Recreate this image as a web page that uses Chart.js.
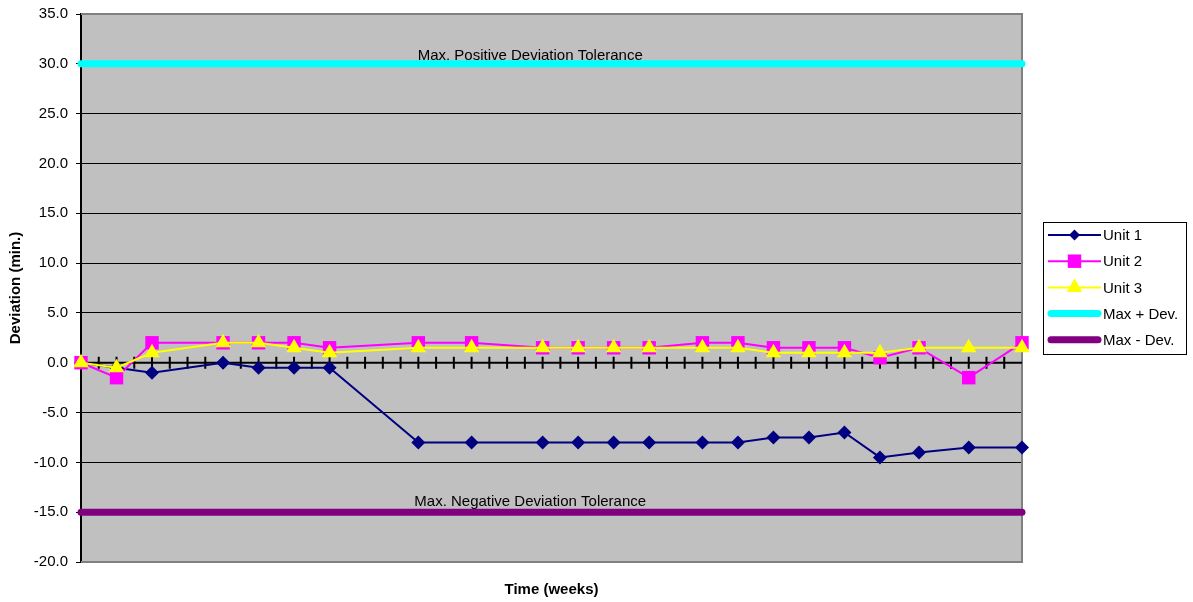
<!DOCTYPE html>
<html>
<head>
<meta charset="utf-8">
<script src="https://cdn.jsdelivr.net/npm/chart.js@4.4.1/dist/chart.umd.min.js"></script>
<style>
    html, body { margin: 0; padding: 0; background: #fff; }
    #wrap { width: 1193px; height: 602px; }
</style>
</head>
<body>
<div id="wrap"><canvas id="chart"></canvas></div>
<script>
// Values
const weeks = [0, 2, 4, 8, 10, 12, 14, 19, 22, 26, 28, 30, 32, 35, 37, 39, 41, 43, 45, 47.2, 50, 53];
const unit1 = [0, -0.5, -1, 0, -0.5, -0.5, -0.5, -8, -8, -8, -8, -8, -8, -8, -8, -7.5, -7.5, -7, -9.5, -9, -8.5, -8.5];
const unit2 = [0, -1.5, 2, 2, 2, 2, 1.5, 2, 2, 1.5, 1.5, 1.5, 1.5, 2, 2, 1.5, 1.5, 1.5, 0.5, 1.5, -1.5, 2];
const unit3 = [0, -0.5, 1, 2, 2, 1.5, 1, 1.5, 1.5, 1.5, 1.5, 1.5, 1.5, 1.5, 1.5, 1, 1, 1, 1, 1.5, 1.5, 1.5];
const maxPosDev = 30;
const maxNegDev = -15;
const seriesNames = ['Unit 1', 'Unit 2', 'Unit 3', 'Max + Dev.', 'Max - Dev.'];
const toleranceLabels = ['Max. Positive Deviation Tolerance', 'Max. Negative Deviation Tolerance'];
const yRange = { min: -20, max: 35, step: 5 };

const FONT = "'Liberation Sans', Arial, sans-serif";
Chart.defaults.font.family = FONT;
Chart.defaults.font.size = 15;
Chart.defaults.color = '#000';

const pts = (ys) => ys.map((y, i) => ({ x: weeks[i], y: y }));
const flat = (y) => [{ x: weeks[0], y: y }, { x: weeks[weeks.length - 1], y: y }];

function unitSeries(label, data, color, style, radius, order) {
    return {
        label: label,
        data: pts(data),
        borderColor: color,
        backgroundColor: color,
        borderWidth: 2,
        pointStyle: style,
        pointRadius: radius,
        pointHoverRadius: radius,
        pointBorderWidth: 0,
        tension: 0,
        order: order
    };
}

function limitSeries(label, y, color, order) {
    return {
        label: label,
        data: flat(y),
        borderColor: color,
        backgroundColor: color,
        borderWidth: 7,
        borderCapStyle: 'round',
        pointRadius: 0,
        order: order
    };
}

// small marker helper, used for the legend swatches
function marker(ctx, style, x, y, r, color) {
    ctx.save();
    ctx.fillStyle = color;
    ctx.beginPath();
    if (style === 'rectRot') {
        ctx.moveTo(x, y - r); ctx.lineTo(x + r, y); ctx.lineTo(x, y + r); ctx.lineTo(x - r, y);
    } else if (style === 'rect') {
        const s = r * Math.SQRT1_2;
        ctx.rect(x - s, y - s, 2 * s, 2 * s);
    } else if (style === 'triangle') {
        ctx.moveTo(x, y - r);
        ctx.lineTo(x + r * Math.sqrt(3) / 2, y + r / 2);
        ctx.lineTo(x - r * Math.sqrt(3) / 2, y + r / 2);
    }
    ctx.closePath();
    ctx.fill();
    ctx.restore();
}

const plotBackground = {
    id: 'plotBackground',
    beforeDraw(chart) {
        const { ctx, chartArea: a } = chart;
        ctx.save();
        ctx.fillStyle = '#C0C0C0';
        ctx.fillRect(a.left, a.top, a.width, a.height);
        ctx.restore();
    }
};

// grey frame plus the zero line with its week tick marks
const plotFrame = {
    id: 'plotFrame',
    beforeDatasetsDraw(chart) {
        const { ctx, chartArea: a, scales } = chart;
        ctx.save();
        ctx.strokeStyle = '#808080';
        ctx.lineWidth = 2;
        ctx.beginPath();
        ctx.moveTo(a.left, a.top); ctx.lineTo(a.right, a.top);
        ctx.lineTo(a.right, a.bottom); ctx.lineTo(a.left, a.bottom);
        ctx.stroke();

        const y0 = scales.y.getPixelForValue(0);
        ctx.strokeStyle = '#000';
        ctx.lineWidth = 2;
        ctx.beginPath();
        ctx.moveTo(a.left, y0); ctx.lineTo(a.right, y0);
        scales.x.ticks.forEach(t => {
            const x = scales.x.getPixelForValue(t.value);
            if (x <= a.left + 1 || x >= a.right - 1) return;
            ctx.moveTo(x, y0 - 6); ctx.lineTo(x, y0 + 6);
        });
        ctx.stroke();
        ctx.restore();
    }
};

const toleranceText = {
    id: 'toleranceText',
    afterDatasetsDraw(chart, args, opts) {
        const { ctx, scales } = chart;
        const x = scales.x.getPixelForValue(opts.anchor);
        ctx.save();
        ctx.font = '15px ' + FONT;
        ctx.fillStyle = '#000';
        ctx.textAlign = 'center';
        ctx.textBaseline = 'alphabetic';
        ctx.fillText(toleranceLabels[0], x, scales.y.getPixelForValue(maxPosDev) - 4);
        ctx.fillText(toleranceLabels[1], x, scales.y.getPixelForValue(maxNegDev) - 6);
        ctx.restore();
    }
};

const boxLegend = {
    id: 'boxLegend',
    afterDraw(chart) {
        const { ctx, chartArea: a } = chart;
        const left = a.right + 21, right = chart.width - 7;
        const rowH = 26.2, h = 132;
        const top = Math.round((a.top + a.bottom) / 2 - h / 2);
        ctx.save();
        ctx.fillStyle = '#fff';
        ctx.fillRect(left, top, right - left, h);
        ctx.strokeStyle = '#000';
        ctx.lineWidth = 1;
        ctx.strokeRect(left + 0.5, top + 0.5, right - left, h);
        chart.data.datasets.forEach((ds, i) => {
            const y = top + 13 + i * rowH;
            const x1 = left + 5, x2 = left + 58;
            ctx.strokeStyle = ds.borderColor;
            ctx.lineWidth = ds.borderWidth;
            ctx.lineCap = ds.borderWidth > 3 ? 'round' : 'butt';
            ctx.beginPath();
            ctx.moveTo(x1 + (ds.borderWidth > 3 ? 3 : 0), y);
            ctx.lineTo(x2 - (ds.borderWidth > 3 ? 3 : 0), y);
            ctx.stroke();
            if (ds.pointRadius > 0) {
                marker(ctx, ds.pointStyle, (x1 + x2) / 2, y, ds.pointStyle === 'rectRot' ? 5.5 : ds.pointRadius, ds.backgroundColor);
            }
            ctx.fillStyle = '#000';
            ctx.font = '15px ' + FONT;
            ctx.textAlign = 'left';
            ctx.textBaseline = 'middle';
            ctx.fillText(ds.label, x2 + 2, y + 1);
        });
        ctx.restore();
    }
};

new Chart(document.getElementById('chart'), {
    type: 'line',
    data: {
        datasets: [
            unitSeries(seriesNames[0], unit1, '#000080', 'rectRot', 7, 3),
            unitSeries(seriesNames[1], unit2, '#FF00FF', 'rect', 9.5, 2),
            unitSeries(seriesNames[2], unit3, '#FFFF00', 'triangle', 9, 1),
            limitSeries(seriesNames[3], maxPosDev, '#00FFFF', 5),
            limitSeries(seriesNames[4], maxNegDev, '#800080', 4)
        ]
    },
    options: {
        responsive: true,
        maintainAspectRatio: false,
        animation: false,
        clip: false,
        layout: { padding: { top: 14, right: 171, bottom: 0, left: 0 } },
        plugins: {
            legend: { display: false },
            tooltip: { enabled: false },
            toleranceText: { anchor: 25.3 }
        },
        scales: {
            x: {
                type: 'linear',
                min: weeks[0],
                max: weeks[weeks.length - 1],
                ticks: { display: false, stepSize: 1 },
                grid: { display: false },
                border: { display: false },
                title: {
                    display: true,
                    text: 'Time (weeks)',
                    font: { size: 15, weight: 'bold' },
                    padding: { top: 0, bottom: 3 }
                },
                afterFit(scale) { scale.height = 40; }
            },
            y: {
                min: yRange.min,
                max: yRange.max,
                ticks: {
                    stepSize: yRange.step,
                    padding: 8,
                    color: '#000',
                    callback: (v) => v.toFixed(1)
                },
                grid: {
                    color: (c) => (c.tick && (c.tick.value === yRange.max || c.tick.value === yRange.min)) ? 'rgba(0,0,0,0)' : '#000',
                    lineWidth: 1,
                    tickColor: '#000',
                    tickLength: 5
                },
                border: { display: true, color: '#000', width: 2 },
                title: {
                    display: true,
                    text: 'Deviation (min.)',
                    font: { size: 15, weight: 'bold' },
                    padding: { top: 7, bottom: 0 }
                },
                afterFit(scale) {
                    scale.width = 81;
                    scale.paddingTop = 0;
                    scale.paddingBottom = 0;
                }
            }
        }
    },
    plugins: [plotBackground, plotFrame, toleranceText, boxLegend]
});
</script>
</body>
</html>
